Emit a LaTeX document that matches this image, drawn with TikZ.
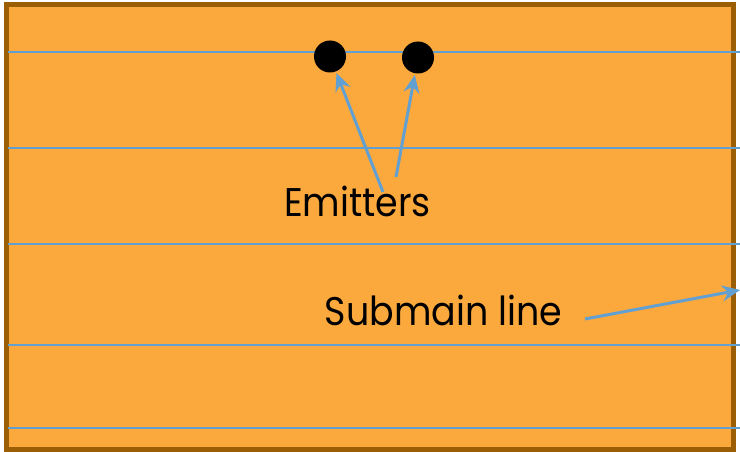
\documentclass[tikz,border=0pt]{standalone}
\usepackage{fontspec}
\setmainfont{Poppins}[FakeStretch=0.91]
\usetikzlibrary{arrows.meta}
\definecolor{fieldorange}{HTML}{FBA93D}
\definecolor{fieldborder}{HTML}{9C5E05}
\definecolor{pipeblue}{HTML}{62A0D2}
\tikzset{
  pipe/.style={draw=pipeblue, line width=2pt},
  emitter/.style={circle, fill=black, inner sep=0pt, minimum size=32pt},
  pointer/.style={draw=pipeblue, line width=3pt, -{Stealth[length=18pt,width=16pt,inset=6pt]}},
  label/.style={font=\fontsize{40}{48}\selectfont, anchor=base, inner sep=0pt, text=black}
}
\begin{document}
\begin{tikzpicture}[x=1pt,y=-1pt]
\useasboundingbox (0,0) rectangle (740,452);
\draw[fill=fieldorange, draw=fieldborder, line width=5pt] (6,5) rectangle (733.5,449.5);
\foreach \yy in {52,148,244,345,428} {
  \draw[pipe] (8,\yy) -- (740,\yy);
}
\node[emitter] (e1) at (330,56.5) {};
\node[emitter] (e2) at (418,57.5) {};
\node[label] (em) at (357.5,216) {Emitters};
\node[label] (sub) at (443.5,325) {Submain line};
\coordinate (a1) at (383,192);
\coordinate (a2) at (396,177);
\coordinate (s1) at (585,319);
\coordinate (s2) at (740,290);
\draw[pointer, shorten >=1.5pt] (a1) -- (e1);
\draw[pointer, shorten >=1.5pt] (a2) -- (e2);
\draw[pointer] (s1) -- (s2);
\end{tikzpicture}
\end{document}
